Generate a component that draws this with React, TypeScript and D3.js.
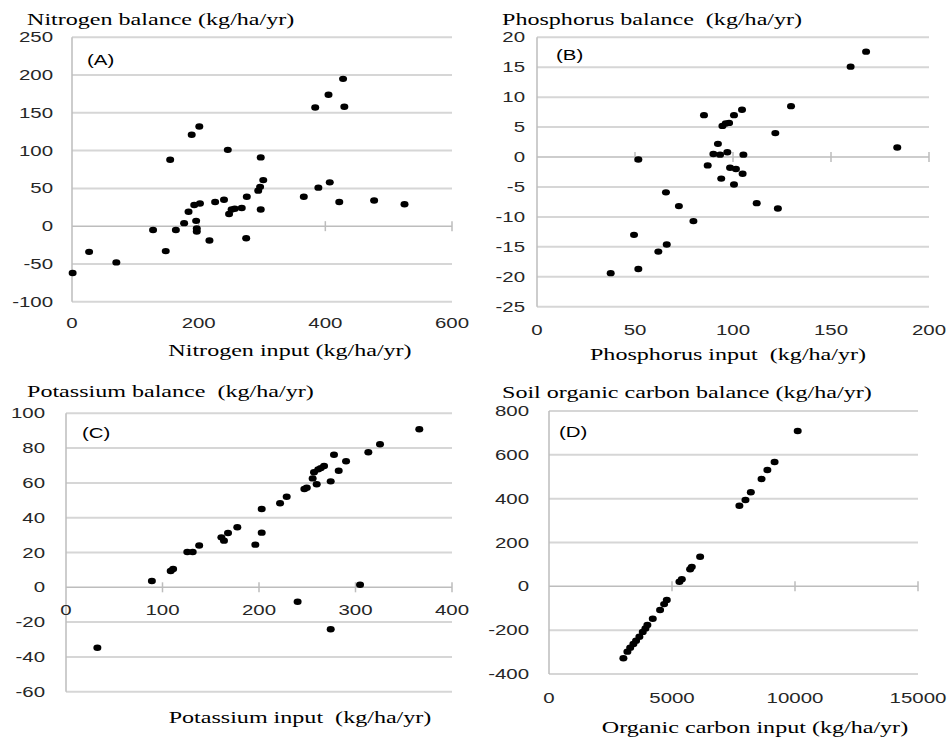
import React from "react";
import * as d3 from "d3";

// ---------- DATA ----------
const nitrogenInput = [1, 27, 70, 128, 148, 155, 164, 177, 184, 189, 201, 193, 202, 196, 197, 197, 217, 226, 240, 246, 248, 252, 257, 268, 275, 276, 298, 294, 297, 302, 298, 366, 384, 389, 405, 407, 422, 428, 430, 477, 525];
const nitrogenBalance = [-62, -34, -48, -5, -33, 88, -5, 4, 19, 121, 132, 28, 30, 7, -3, -7, -19, 32, 35, 101, 16, 22, 23, 24, -16, 39, 91, 47, 52, 61, 22, 39, 157, 51, 174, 58, 32, 195, 158, 34, 29];

const phosphorusInput = [37.6, 49.5, 51.7, 51.7, 61.9, 66.2, 65.8, 72.4, 79.8, 85.2, 87.1, 90, 92.3, 93.4, 94, 94.6, 96.3, 97.1, 98, 98.5, 100.5, 100.5, 101.5, 104.6, 104.9, 105.3, 112.1, 121.6, 122.9, 129.6, 160, 167.9, 183.8];
const phosphorusBalance = [-19.4, -13, -0.4, -18.7, -15.8, -14.6, -5.9, -8.2, -10.7, 7.0, -1.4, 0.5, 2.2, 0.4, -3.6, 5.2, 5.6, 0.8, 5.7, -1.8, 7.0, -4.6, -2.0, 7.9, -2.8, 0.4, -7.7, 4.0, -8.6, 8.5, 15.1, 17.6, 1.6];

const potassiumInput = [32.5, 89, 108.5, 111, 125.7, 131.3, 138, 161, 163.7, 167.9, 177.5, 196.2, 202.8, 202.8, 221.8, 228.7, 240, 247, 249.5, 255.6, 257, 259.8, 261.4, 264, 267.4, 277.7, 274.3, 282.6, 290.2, 313.3, 325.4, 366.1, 304.7, 274.3];
const potassiumBalance = [-34.7, 3.6, 9.4, 10.5, 20.3, 20.3, 24, 28.7, 26.8, 31.2, 34.5, 24.5, 31.4, 45, 48.3, 52, -8.3, 56.5, 57.2, 62.6, 66.1, 59.2, 67.8, 68.5, 69.7, 76.2, 60.9, 67, 72.4, 77.6, 82.2, 90.8, 1.5, -24.1];

const carbonInput = [3024, 3187, 3300, 3431, 3540, 3675, 3811, 3919, 4000, 4218, 4516, 4679, 4788, 5302, 5399, 5736, 5805, 6143, 7740, 7986, 8205, 8640, 8877, 9170, 10110];
const carbonBalance = [-328, -298, -280, -263, -248, -230, -208, -192, -176, -148, -108, -81, -62, 21, 32, 78, 89, 135, 368, 394, 429, 490, 531, 567, 709];

const nXTicks = [0, 200, 400, 600];
const nYTicks = [-100, -50, 0, 50, 100, 150, 200, 250];
const pXTicks = [0, 50, 100, 150, 200];
const pYTicks = [-25, -20, -15, -10, -5, 0, 5, 10, 15, 20];
const kXTicks = [0, 100, 200, 300, 400];
const kYTicks = [-60, -40, -20, 0, 20, 40, 60, 80, 100];
const cXTicks = [0, 5000, 10000, 15000];
const cYTicks = [-400, -200, 0, 200, 400, 600, 800];

const panelLetters = ["(A)", "(B)", "(C)", "(D)"];
const yTitles = ["Nitrogen balance (kg/ha/yr)", "Phosphorus balance  (kg/ha/yr)", "Potassium balance  (kg/ha/yr)", "Soil organic carbon balance (kg/ha/yr)"];
const xTitles = ["Nitrogen input (kg/ha/yr)", "Phosphorus input  (kg/ha/yr)", "Potassium input  (kg/ha/yr)", "Organic carbon input (kg/ha/yr)"];

// ---------- STYLE ----------
const SX = 1.46;
const SERIF = "'Liberation Serif', 'DejaVu Serif', serif";
const SANS = "'Liberation Sans', Arial, sans-serif";
const GRID = "#d6d6d6";
const AXIS = "#bdbdbd";
const TICKTEXT = "#262626";

type Layout = {
  x0: number; x1: number; y0: number; y1: number;
  title: [number, number]; letter: [number, number];
  xTitle: [number, number]; yLabelRight: number; xLabelY: number | null; xLabelOffset?: number;
};

const layouts: Layout[] = [
  { x0: 72, x1: 452, y0: 301.7, y1: 37.3, title: [27, 25], letter: [87, 65], xTitle: [290, 356], yLabelRight: 53, xLabelY: 328 },
  { x0: 537, x1: 929, y0: 306.7, y1: 37.3, title: [502, 25], letter: [556, 60], xTitle: [728, 360], yLabelRight: 525, xLabelY: 335 },
  { x0: 66, x1: 452, y0: 691.7, y1: 413.3, title: [27, 397], letter: [82, 438], xTitle: [300, 723], yLabelRight: 45, xLabelY: null, xLabelOffset: 28 },
  { x0: 549, x1: 918, y0: 674, y1: 411, title: [502, 398], letter: [559, 437], xTitle: [755, 733], yLabelRight: 529, xLabelY: 703 },
];

function T(props: { x: number; y: number; anchor?: string; size: number; family: string; fill?: string; children: React.ReactNode }) {
  const { x, y, anchor = "start", size, family, fill = "#000", children } = props;
  return (
    <text
      transform={`translate(${x},${y}) scale(${SX},1)`}
      textAnchor={anchor as any}
      fontSize={size}
      fontFamily={family}
      fill={fill}
      style={{ whiteSpace: "pre" }}
    >
      {children}
    </text>
  );
}

function Panel(props: { idx: number; xs: number[]; ys: number[]; xTicks: number[]; yTicks: number[] }) {
  const { idx, xs, ys, xTicks, yTicks } = props;
  const L = layouts[idx];
  const x = d3.scaleLinear().domain([xTicks[0], xTicks[xTicks.length - 1]]).range([L.x0, L.x1]);
  const y = d3.scaleLinear().domain([yTicks[0], yTicks[yTicks.length - 1]]).range([L.y0, L.y1]);
  const zeroY = y(0);
  return (
    <g>
      {yTicks.filter((t) => t !== 0).map((t) => (
        <line key={"g" + t} x1={L.x0} x2={L.x1} y1={y(t)} y2={y(t)} stroke={GRID} strokeWidth={2} />
      ))}
      <line x1={L.x0} x2={L.x0} y1={L.y0} y2={L.y1} stroke={AXIS} strokeWidth={1.5} />
      <line x1={L.x0} x2={L.x1} y1={zeroY} y2={zeroY} stroke={AXIS} strokeWidth={1.5} />
      {xTicks.filter((t) => t !== 0).map((t) => (
        <line key={"t" + t} x1={x(t)} x2={x(t)} y1={zeroY - 5} y2={zeroY + 5} stroke={AXIS} strokeWidth={1.5} />
      ))}
      {yTicks.map((t) => (
        <T key={"yl" + t} x={L.yLabelRight} y={y(t) + 5} anchor="end" size={14} family={SANS} fill={TICKTEXT}>{String(t)}</T>
      ))}
      {xTicks.map((t) => (
        <T key={"xl" + t} x={x(t)} y={L.xLabelY !== null ? L.xLabelY : zeroY + (L.xLabelOffset || 0)} anchor="middle" size={14} family={SANS} fill={TICKTEXT}>{String(t)}</T>
      ))}
      {xs.map((v, i) => (
        <ellipse key={"p" + i} cx={x(v)} cy={y(ys[i])} rx={4} ry={3.2} fill="#000" />
      ))}
      <T x={L.title[0]} y={L.title[1]} size={16.5} family={SERIF}>{yTitles[idx]}</T>
      <T x={L.xTitle[0]} y={L.xTitle[1]} anchor="middle" size={16.5} family={SERIF}>{xTitles[idx]}</T>
      <T x={L.letter[0]} y={L.letter[1]} size={14} family={SANS}>{panelLetters[idx]}</T>
    </g>
  );
}

export default function App() {
  return (
    <svg
      width={948}
      height={740}
      viewBox="0 0 948 740"
      style={{ position: "absolute", left: 0, top: 0, background: "#fff" }}
    >
      <rect x={0} y={0} width={948} height={740} fill="#fff" />
      <Panel idx={0} xs={nitrogenInput} ys={nitrogenBalance} xTicks={nXTicks} yTicks={nYTicks} />
      <Panel idx={1} xs={phosphorusInput} ys={phosphorusBalance} xTicks={pXTicks} yTicks={pYTicks} />
      <Panel idx={2} xs={potassiumInput} ys={potassiumBalance} xTicks={kXTicks} yTicks={kYTicks} />
      <Panel idx={3} xs={carbonInput} ys={carbonBalance} xTicks={cXTicks} yTicks={cYTicks} />
    </svg>
  );
}
